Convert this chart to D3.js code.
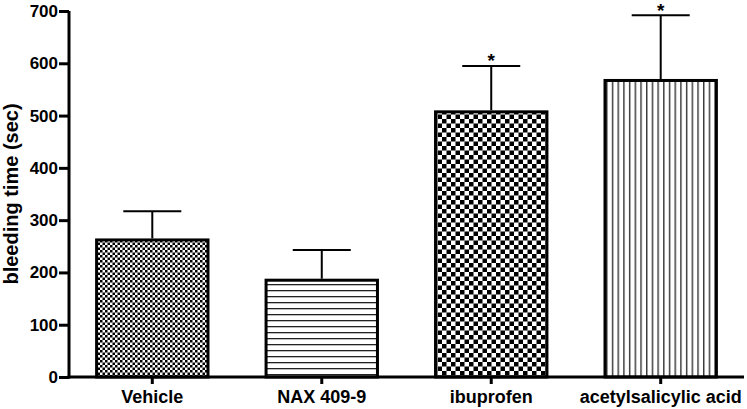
<!DOCTYPE html>
<html><head><meta charset="utf-8">
<script src="https://cdn.jsdelivr.net/npm/d3@7"></script>
<style>body{margin:0;background:#fff}svg{display:block}text{font-family:"Liberation Sans",Arial,sans-serif;font-weight:bold}</style>
</head><body>
<svg id="c" width="747" height="409"></svg>
<script>
const categories = ["Vehicle", "NAX 409-9", "ibuprofen", "acetylsalicylic acid"];
const means = [265, 188, 510, 570];
const errors = [52, 55, 85, 122];
const significant = [false, false, true, true];
const patterns = ["fineCheck", "hLines", "coarseCheck", "vLines"];
const yTicks = [0, 100, 200, 300, 400, 500, 600, 700];

const svg = d3.select("#c");
const x0 = 69, x1 = 744, yTop = 11, yBot = 377;
const x = d3.scaleBand().domain(categories).range([x0, x1]).paddingInner(0.325).paddingOuter(0.154);
const y = d3.scaleLinear().domain([0, 700]).range([yBot, yTop]);

const defs = svg.append("defs");
let p = defs.append("pattern").attr("id","fineCheck").attr("patternUnits","userSpaceOnUse").attr("width",5).attr("height",5);
p.append("rect").attr("width",5).attr("height",5).attr("fill","#fff");
p.append("rect").attr("width",2.5).attr("height",2.5).attr("fill","#000");
p.append("rect").attr("x",2.5).attr("y",2.5).attr("width",2.5).attr("height",2.5).attr("fill","#000");
p = defs.append("pattern").attr("id","coarseCheck").attr("patternUnits","userSpaceOnUse").attr("width",9).attr("height",9).attr("x",433).attr("y",110);
p.append("rect").attr("width",9).attr("height",9).attr("fill","#fff");
p.append("rect").attr("width",4.5).attr("height",4.5).attr("fill","#000");
p.append("rect").attr("x",4.5).attr("y",4.5).attr("width",4.5).attr("height",4.5).attr("fill","#000");
p = defs.append("pattern").attr("id","hLines").attr("patternUnits","userSpaceOnUse").attr("width",6).attr("height",6);
p.append("rect").attr("width",6).attr("height",6).attr("fill","#fff");
p.append("rect").attr("y",2).attr("width",6).attr("height",1.3).attr("fill","#222");
p = defs.append("pattern").attr("id","vLines").attr("patternUnits","userSpaceOnUse").attr("width",5.7).attr("height",6);
p.append("rect").attr("width",5.7).attr("height",6).attr("fill","#fff");
p.append("rect").attr("x",2).attr("width",1.3).attr("height",6).attr("fill","#222");

const data = categories.map((c,i)=>({c, m:means[i], e:errors[i], s:significant[i], p:patterns[i]}));

const eb = svg.append("g").attr("stroke","#000").attr("stroke-width",2);
data.forEach(d=>{
  const cx = x(d.c) + x.bandwidth()/2;
  eb.append("line").attr("x1",cx).attr("x2",cx).attr("y1",y(d.m)).attr("y2",y(d.m+d.e));
  eb.append("line").attr("x1",cx-29).attr("x2",cx+29).attr("y1",y(d.m+d.e)).attr("y2",y(d.m+d.e));
  if (d.s) svg.append("text").attr("x",cx).attr("y",y(d.m+d.e)+1.5).attr("text-anchor","middle").attr("font-size",19).text("*");
});

svg.append("g").selectAll("rect").data(data).join("rect")
  .attr("x", d=>x(d.c)+1.5).attr("width", x.bandwidth()-3)
  .attr("y", d=>y(d.m)+1.5).attr("height", d=>y(0)-y(d.m)-1.5)
  .attr("fill", d=>`url(#${d.p})`).attr("stroke","#000").attr("stroke-width",3);

const ya = svg.append("g").attr("transform",`translate(${x0},0)`)
  .call(d3.axisLeft(y).tickValues(yTicks).tickSize(10).tickPadding(1).tickFormat(d3.format("d")));
ya.select(".domain").attr("stroke-width",3).attr("d",`M0,${yTop}V${yBot+1.5}`);
ya.selectAll(".tick line").attr("stroke-width",3);
ya.selectAll(".tick text").attr("font-size",17).attr("fill","#000").attr("font-family","Liberation Sans, Arial").attr("font-weight","bold");

const xa = svg.append("g").attr("transform",`translate(0,${yBot})`)
  .call(d3.axisBottom(x).tickSize(7).tickPadding(6));
xa.select(".domain").attr("stroke-width",3).attr("d",`M${x0-1.5},0H${x1}`);
xa.selectAll(".tick line").attr("stroke-width",3);
xa.selectAll(".tick text").attr("font-size",18).attr("fill","#000").attr("font-family","Liberation Sans, Arial").attr("font-weight","bold");

svg.append("text").attr("transform",`translate(18,${(yTop+yBot)/2}) rotate(-90)`)
  .attr("text-anchor","middle").attr("font-size",20).text("bleeding time (sec)");
</script>
</body></html>
